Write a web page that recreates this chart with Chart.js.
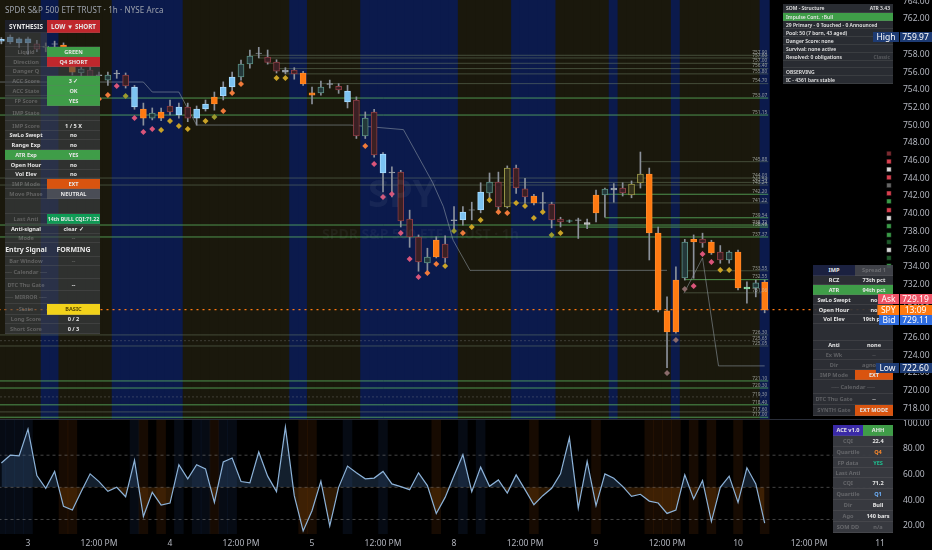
<!DOCTYPE html>
<html><head><meta charset="utf-8">
<script src="https://cdn.jsdelivr.net/npm/chart.js@4.4.1/dist/chart.umd.min.js"></script>
<style>
html,body{margin:0;padding:0;background:#000;}
body{width:932px;height:550px;position:relative;overflow:hidden;font-family:"Noto Sans",Roboto,Arial,sans-serif;}
canvas{position:absolute;left:0;}
#cMain{top:0;z-index:1}
#cOsc{top:420px;z-index:1}
#cTags{top:0;z-index:5;pointer-events:none}
#sep{position:absolute;left:0;top:419px;width:932px;height:1px;background:#2a2e39;}
.title{position:absolute;left:5px;top:4px;font-size:8px;color:#9ea3ad;letter-spacing:0.1px;z-index:2}
.wm1{position:absolute;left:368px;top:166px;font-size:38px;font-weight:700;color:rgba(140,150,170,0.10);z-index:2}
.wm2{position:absolute;left:322px;top:224px;font-size:14px;font-weight:700;color:rgba(140,150,170,0.08);z-index:2}
.tb{position:absolute;z-index:3}
.row{position:absolute;left:0;display:flex;}
.cell{box-sizing:border-box;display:flex;align-items:center;justify-content:center;font-size:5.6px;font-weight:700;color:#e6e6e6;white-space:nowrap;overflow:hidden;border-bottom:1px solid rgba(110,110,110,0.25);}
#tSom .cell{font-size:5px;font-weight:600;}
.dim{color:rgba(190,190,190,0.35);}
</style></head>
<body>
<canvas id="cMain" width="932" height="419"></canvas>
<canvas id="cOsc" width="932" height="130"></canvas>
<canvas id="cTags" width="932" height="419"></canvas>
<div id="sep"></div>
<div class="title">SPDR S&amp;P 500 ETF TRUST · 1h · NYSE Arca</div>
<div class="wm1">SPY</div>
<div class="wm2">SPDR S&amp;P 500 ETF TRUST · 1h</div>
<div id="tLeft" class="tb"></div>
<div id="tSom" class="tb"></div>
<div id="tImp" class="tb"></div>
<div id="tAce" class="tb"></div>
<script>
// ---------------- DATA ----------------
const firstBar = -3;            // bar index of first candle (bar 0 = day "3", 04:00)
const opens  = [759.5,759.4,759.3,759.3,759.2,758.8,759.2,759.06,757.93,755.95,756.24,755.7,755.1,755.8,755.67,752.06,751.83,750.81,751.49,752.17,751.15,752.06,750.81,751.83,753.19,753.3,754.32,755.45,756.92,758.1,757.7,757.14,756.24,756.24,755.9,753.65,753.64,754.6,754.4,752.62,752.85,748.78,751.49,744.6,744.6,744.7,739.4,737.37,734.43,737.03,736.58,739.3,739.29,740.4,740.42,742.34,743.58,740.76,745.16,742.8,742.0,741.25,741.1,739.4,739.2,739.3,738.8,742.11,742.11,742.68,742.9,742.11,743.47,744.49,737.82,729.01,726.63,732.73,737.1,737.14,736.8,735.67,734.77,735.67,731.7,731.6,732.28];
const highs  = [759.9,760.2,759.9,759.97,759.6,759.3,759.5,759.3,758.3,756.7,756.7,756.0,756.0,756.2,755.9,754.5,752.5,751.95,751.95,752.85,752.5,752.5,752.17,752.85,753.75,754.9,756.0,757.37,758.5,758.8,758.5,757.4,756.5,756.5,756.1,754.3,755.0,755.1,754.7,754.5,753.2,751.5,751.8,746.9,745.3,744.9,740.4,737.6,736.1,737.4,737.5,740.8,740.8,741.3,743.5,744.6,744.7,745.4,745.5,744.0,742.2,742.4,741.3,739.6,739.3,739.5,739.4,742.68,742.9,743.4,743.5,743.7,746.97,745.16,738.5,730.6,734.0,737.1,737.6,737.8,737.0,736.4,735.8,735.9,732.3,732.5,732.5];
const lows   = [759.2,759.2,758.8,758.0,758.3,758.3,758.8,757.9,755.67,755.45,755.1,755.2,754.5,755.3,754.2,751.8,750.0,750.6,750.5,751.15,750.81,750.4,750.0,751.6,751.7,752.85,753.75,755.1,756.46,757.6,756.9,755.9,755.8,755.2,754.5,752.4,753.4,754.2,753.6,751.95,748.5,748.5,746.4,742.45,741.9,738.5,736.2,733.5,733.4,735.0,734.5,738.2,738.7,739.3,740.1,741.3,740.4,740.65,742.3,741.2,741.0,740.2,738.4,738.5,739.0,737.2,738.3,739.06,739.6,741.3,742.0,741.8,742.9,734.77,728.9,722.6,726.5,732.5,732.7,736.2,735.4,734.4,734.4,731.4,729.9,730.6,728.8];
const closes = [759.7,759.97,759.75,759.75,758.6,758.95,759.15,758.16,756.0,756.35,755.45,755.6,755.67,755.9,754.43,754.32,750.81,751.38,750.81,751.49,752.06,750.81,751.83,752.4,752.4,754.32,755.45,756.92,757.82,758.16,757.1,756.12,756.0,755.8,754.66,753.4,754.32,754.7,754.0,753.87,748.78,750.81,746.63,746.74,744.7,739.18,737.37,734.54,735.11,735.11,734.99,739.2,740.19,740.45,742.45,743.58,740.76,745.16,742.9,741.9,741.21,741.2,739.29,739.06,739.15,739.25,739.0,740.08,742.79,742.9,742.34,743.36,744.49,737.82,729.12,726.63,732.51,736.8,736.8,736.69,735.56,734.77,735.67,731.6,731.5,732.2,729.12];
// candle state as coloured by the indicator: up / dn (filled), upH / dnH / ol (hollow), doji-like marks
const candleState = ['up','up','up','up','dnH','upH','doji','dn','dn','upH','dnH','doji','upH','doji','dnH','up','dn','upH','dn','dnH','up','dnH','up','up','dn','up','up','upH','upH','doji','dnH','dnH','doji','dnH','dn','dn','upH','doji','dnH','up','dnH','upH','dnH','up','doji','dnH','dnH','dnH','upH','dn','dnH','doji','up','doji','up','upH','dnH','ol','dnH','dnH','dn','doji','dnH','dnH','tdash','doji','gray','dn','upH','doji','dnH','ol','ol','dn','dn','dn','dn','upH','dn','dnH','dn','dnH','upH','dn','gcross','upH','dn'];
// session shading per bar: 1 = highlighted (blue) session, 0 = normal
const sessionState = [0,0,0,0,0,1,1,0,0,0,0,0,0,1,1,1,1,1,1,1,1,0,0,0,0,0,0,0,0,0,0,0,0,1,1,0,0,0,0,0,0,1,1,1,1,1,1,1,1,1,1,1,0,0,0,0,0,0,1,1,1,1,1,0,0,0,0,0,0,1,0,0,0,0,0,0,1,0,0,0,0,0,0,0,0,0,1];
// signal diamonds: bar index, price, kind (y = yellow, p = pink, o = orange, l = olive, g = grey)
const sigBar   = [6,7,8,9,10,11,12,13,14,15,16,17,18,20,21,22,23,24,28,29,38,39,40,41,42,43,44,45,46,47,48,49,50,51,52,53,54,55,56,57,58,59,60,72,73,74,75,76,77,78,79];
const sigPrice = [755.11,754.20,752.96,753.41,754.43,753.30,750.81,749.23,749.57,749.46,750.47,749.91,749.57,750.47,750.93,751.60,753.64,754.66,755.33,755.33,747.65,745.62,741.89,742.23,737.82,734.88,732.85,733.30,734.32,734.09,738.05,737.82,738.50,739.29,741.55,740.19,740.08,741.21,740.87,739.51,740.19,737.59,737.82,722.0,725.73,731.49,731.83,735.45,734.54,733.64,733.64];
const sigKind  = ['o','y','o','o','p','l','p','p','p','y','y','y','y','y','l','o','o','o','y','y','o','p','p','p','p','p','p','o','o','y','l','o','y','y','y','o','o','y','y','y','y','l','y','g','g','g','p','p','p','y','y'];
// horizontal levels: price, from bar, to bar, kind (g = strong green, d = dim, t = dotted)
const levelPrice = [753.07,751.15,744.03,743.24,738.72,737.37,721.10,720.30,718.40,717.00,726.30,725.65,725.05,719.30,717.60,757.90,757.60,757.00,756.40,755.80,754.70,745.88,743.54,742.20,741.22,739.54,738.49,733.55,732.55,731.06];
const levelFrom  = [-4,-4,-4,-4,-4,-4,-4,-4,-4,-4,-4,-4,-4,-4,-4,25,26,27,28,29,31,69,52,65,53,65,62,74,74,74];
const levelTo    = [83.4,83.4,83.4,83.4,83.4,83.4,83.4,83.4,83.4,83.4,83.4,83.4,83.4,83.4,83.4,83.4,83.4,83.4,83.4,83.4,83.4,83.4,83.4,83.4,83.4,83.4,83.4,83.4,83.4,83.4];
const levelKind  = ['g','g','d','d','g','g','g','g','g','g','d','t','d','t','d','d','d','d','d','d','d','d','d','g','d','g','g','d','g','d'];
// trailing structure lines (bar index, price)
const trailA_x = [-3.2,8,13,14,17,19,36.3,42.3,43.9,45.6,46.8,47.9,49.8,72];
const trailA_y = [754.88,754.88,754.88,753.75,753.75,750.02,750.02,749.5,746.6,743.5,740.8,737.0,733.6,733.6];
const trailB_x = [73.9,76,77.8,83];
const trailB_y = [731.0,735.0,722.8,722.8];
// ACE oscillator
const osc = [69,75,74.5,95.3,59.2,49.3,62.4,35.2,32.3,46.7,60.5,54.5,46.9,50.1,42.7,71,27.3,46.1,36.2,37.8,67.6,56.6,67.6,64.4,38.3,69.7,72.8,54.5,53.5,77.5,58.7,46.7,96.9,43.5,16.1,31.8,54.8,20,50,66.5,61.3,56.6,57.2,62.4,52.7,50.6,48.2,61.3,51.4,29.7,42.2,59,75.4,46.7,65.7,50.8,55.8,45.6,59.7,48.2,36.5,43.5,49.3,60.5,88.5,33.9,70.2,35.7,60.5,57.1,50.8,43,44.6,39.3,37.8,29.7,32.3,59.7,40.9,55.3,23.4,50,58.7,38.3,65.2,52.7,22.1];
const oscLevels = [75,50,25];
// right heat column (price, state)
const heatPrice = [746.8,745.9,745.0,744.1,743.2,742.3,741.4,740.4,739.5,738.6,737.6,736.8,735.9,735.0,734.1];
const heatState = ['r','R','w','R','n','R','G','R','w','G','G','g','w','g','G'];
// time axis
const timeTickBars = [0,8,16,24,32,40,48,56,64,72,80,88,96];
const timeTickLabels = ['3','12:00 PM','4','12:00 PM','5','12:00 PM','8','12:00 PM','9','12:00 PM','10','12:00 PM','11'];
// quotes
const lastPrice = 729.15, askPrice = 729.19, bidPrice = 729.11, hiPrice = 759.97, loPrice = 722.60;
const barCountdown = '13:09';
// price window
const priceMin = 716.8, priceMax = 764.15, xMin = -3.155, xMax = 97.46;
const oscMin = 13.7, oscMax = 102.4;

// ---------------- STYLE ----------------
const bodyFill = {up:'#7cc3f2',dn:'#ff7a12',upH:'#24383a',dnH:'#3a2024',ol:'#34311b',doji:'#9aa3ad',tdash:'#63d3c6',gray:'#c8c8c8',gcross:'#8fe0a8'};
const bodyLine = {up:'#a9dcff',dn:'#ff8a2a',upH:'#5b8f84',dnH:'#8c3d45',ol:'#9c9a4a',doji:'#9aa3ad',tdash:'#63d3c6',gray:'#c8c8c8',gcross:'#8fe0a8'};
const sigColor = {y:'#c9a227',p:'#d9557a',o:'#f07a3a',l:'#9a9a2e',g:'#8a6a6a'};
const heatColor = {r:'#7a2a30',R:'#d8404f',w:'#d8d8d8',n:'#666',G:'#3a9a48',g:'#1e5a2a'};
const levelColor = {g:'rgba(96,190,100,0.75)',d:'rgba(120,140,110,0.45)',t:'rgba(150,150,150,0.6)'};

const idx = opens.map((_, k) => firstBar + k);
Chart.defaults.font.family = '"Noto Sans", Roboto, Arial, sans-serif';
Chart.defaults.animation = false;
function noPad(s){ s.paddingTop = 0; s.paddingBottom = 0; s.paddingLeft = 0; s.paddingRight = 0; }

const datasets = [];
datasets.push({type:'bar', order:100, data: idx.map(x => ({x, y:[priceMin, priceMax]})),
  backgroundColor: sessionState.map(s => s ? '#0b1a4c' : '#1a180c'), borderWidth:0,
  barPercentage:1, categoryPercentage:1, grouped:false, inflateAmount:0.6});
levelPrice.forEach((p, k) => datasets.push({type:'line', order:50,
  data:[{x:levelFrom[k], y:p},{x:levelTo[k], y:p}], borderColor: levelColor[levelKind[k]],
  borderWidth: 1, borderDash: levelKind[k]==='t' ? [1,3] : [], pointRadius:0}));
datasets.push({type:'line', order:40, data: trailA_x.map((x,k)=>({x, y:trailA_y[k]})),
  borderColor:'rgba(150,160,170,0.55)', borderWidth:1, pointRadius:0, tension:0});
datasets.push({type:'line', order:40, data: trailB_x.map((x,k)=>({x, y:trailB_y[k]})),
  borderColor:'rgba(150,160,170,0.55)', borderWidth:1, pointRadius:0, tension:0});
datasets.push({type:'bar', order:20, data: idx.map((x,k)=>({x, y:[lows[k], highs[k]]})),
  backgroundColor:'#8b919b', borderWidth:0, barThickness:1, grouped:false});
datasets.push({type:'bar', order:10, data: idx.map((x,k)=>({x, y:[opens[k], closes[k]]})),
  backgroundColor: candleState.map(s=>bodyFill[s]), borderColor: candleState.map(s=>bodyLine[s]),
  borderWidth:1, borderSkipped:false, barThickness:6, grouped:false});
datasets.push({type:'line', order:5, showLine:false, data: sigBar.map((x,k)=>({x, y:sigPrice[k]})),
  pointStyle:'rectRot', pointRadius:3, pointBorderWidth:0,
  pointBackgroundColor: sigKind.map(s=>sigColor[s])});
datasets.push({type:'line', order:3, data:[{x:-4,y:lastPrice},{x:98,y:lastPrice}],
  borderColor:'#ff7a12', borderWidth:1.3, borderDash:[2,4], pointRadius:0});
datasets.push({type:'line', order:2, showLine:false, data: heatPrice.map(p=>({x:97.0, y:p})),
  pointStyle:'rect', pointRadius:3.3, pointBorderWidth:0.8, pointBorderColor:'rgba(0,0,0,0.6)',
  pointBackgroundColor: heatState.map(s=>heatColor[s])});

const tagPlugin = {id:'tags', afterDraw(chart){
  const ctx = chart.ctx, y = chart.scales.y, x = chart.scales.x;
  ctx.save();
  // level value labels near the right end of each level
  ctx.font = '4.8px "Noto Sans", Roboto, Arial';
  ctx.fillStyle = 'rgba(190,195,190,0.75)'; ctx.textAlign = 'right'; ctx.textBaseline = 'middle';
  levelPrice.forEach(p => ctx.fillText(p.toFixed(2), x.getPixelForValue(levelTo[0]) - 1, y.getPixelForValue(p) - 2.5));
  ctx.restore();
  // price tags on an overlay canvas so they sit above the info tables
  const o = document.getElementById('cTags').getContext('2d');
  o.clearRect(0,0,932,419);
  const tags = [
    {n:'High', v:hiPrice.toFixed(2), p:hiPrice, off:0, c:'#1d3b74'},
    {n:'Ask', v:askPrice.toFixed(2), p:askPrice, off:-10, c:'#ef5366'},
    {n:'SPY', v:barCountdown, p:lastPrice, off:0, c:'#ff7a12'},
    {n:'Bid', v:bidPrice.toFixed(2), p:bidPrice, off:10, c:'#2f6de0'},
    {n:'Low', v:loPrice.toFixed(2), p:loPrice, off:0, c:'#1d3b74'}];
  tags.forEach(t=>{
    const yy = Math.round(y.getPixelForValue(t.p) + t.off);
    o.font = '8.5px "Noto Sans", Roboto, Arial';
    const nw = o.measureText(t.n).width + 7;
    o.fillStyle = t.c;
    o.fillRect(899 - nw, yy-5, nw, 10);
    o.fillRect(900, yy-5, 32, 10);
    o.fillStyle = '#fff'; o.textBaseline = 'middle'; o.textAlign='center';
    o.fillText(t.n, 899 - nw/2, yy+0.5);
    o.fillText(t.v, 915.5, yy+0.5);
  });
}};

new Chart(document.getElementById('cMain'), {
  type:'bar', data:{datasets},
  options:{responsive:false, devicePixelRatio:1, animation:false,
    layout:{padding:0, autoPadding:false},
    plugins:{legend:{display:false}, tooltip:{enabled:false}},
    scales:{
      x:{type:'linear', min:xMin, max:xMax, display:false, offset:false},
      y:{type:'linear', position:'right', min:priceMin, max:priceMax,
        grid:{display:false, drawTicks:false}, border:{display:false},
        afterFit(s){ s.width = 39; noPad(s); },
        ticks:{stepSize:2, includeBounds:false, autoSkip:false, padding:10, color:'#b2b5be',
          font:{size:8.5}, callback:v=>v.toFixed(2)}}
    }},
  plugins:[tagPlugin]
});

// ---- oscillator panel ----
const oscStripe = candleState.map(s => s==='up' ? 'rgba(60,110,200,0.10)' : (s==='dn' ? 'rgba(255,120,20,0.09)' : 'rgba(0,0,0,0)'));
const oscSets = [
  {type:'bar', order:100, data: idx.map(x=>({x, y:[oscMin, oscMax]})), backgroundColor: oscStripe,
    borderWidth:0, barPercentage:1, categoryPercentage:1, grouped:false},
  ...oscLevels.map(v=>({type:'line', order:50, data:[{x:-4,y:v},{x:98,y:v}], borderColor:'rgba(150,150,150,0.45)',
    borderWidth:1, borderDash:[3,3], pointRadius:0})),
  {type:'line', order:1, data: idx.map((x,k)=>({x, y:osc[k]})), borderColor:'#8db3d9', borderWidth:1.2,
    pointRadius:0, tension:0, fill:{target:{value:50}, above:'rgba(70,110,160,0.28)', below:'rgba(140,75,10,0.33)'}}
];
new Chart(document.getElementById('cOsc'), {
  type:'bar', data:{datasets:oscSets},
  options:{responsive:false, devicePixelRatio:1, animation:false, layout:{padding:0, autoPadding:false},
    plugins:{legend:{display:false}, tooltip:{enabled:false}},
    scales:{
      x:{type:'linear', min:xMin, max:xMax, offset:false, grid:{display:false, drawTicks:false}, border:{display:false},
        afterBuildTicks(s){ s.ticks = timeTickBars.map(v=>({value:v})); },
        afterFit(s){ s.height = 16; noPad(s); },
        ticks:{autoSkip:false, maxRotation:0, padding:4, color:'#b2b5be', font:{size:8.5},
          callback:(v,i)=>timeTickLabels[i]}},
      y:{type:'linear', position:'right', min:oscMin, max:oscMax, grid:{display:false, drawTicks:false}, border:{display:false},
        afterFit(s){ s.width = 39; noPad(s); },
        ticks:{stepSize:20, includeBounds:false, autoSkip:false, padding:10, color:'#b2b5be', font:{size:8.5},
          callback:v=>v.toFixed(2)}}
    }}
});

// ---------------- TABLES (UI overlays) ----------------
function buildTable(el, left, top, widths, rows, bg){
  el.style.left = left+'px'; el.style.top = top+'px';
  el.style.width = widths.reduce((a,b)=>a+b,0)+'px';
  let y = 0;
  rows.forEach(r=>{
    const [h, cells] = r;
    const row = document.createElement('div'); row.className='row'; row.style.top=y+'px'; row.style.height=h+'px';
    let ci = 0;
    cells.forEach(c=>{
      const d = document.createElement('div'); d.className='cell'+(c.dim?' dim':'');
      const span = c.span||1; let w=0; for(let k=0;k<span;k++) w+=widths[ci+k]; ci+=span;
      d.style.width=w+'px'; d.style.height=h+'px';
      d.style.background = c.bg || bg;
      if(c.fg) d.style.color=c.fg; if(c.fs) d.style.fontSize=c.fs+'px';
      if(c.align) { d.style.justifyContent=c.align; d.style.padding='0 3px'; }
      d.textContent = c.t||'';
      row.appendChild(d);
    });
    el.appendChild(row); y+=h;
  });
}
const G='#3f9d48', RED='#c0272d', ORG='#d9540f', GRY='rgba(62,64,70,0.62)';
buildTable(document.getElementById('tLeft'), 5, 20, [42,53], [
  [13,[{t:'SYNTHESIS',bg:'rgba(30,34,45,0.92)',fs:6.3},{t:'LOW ▼ SHORT',bg:RED,fs:6.3}]],
  [14,[{t:''},{t:'',bg:'rgba(0,0,0,0)'}]],
  [10,[{t:'Liquid',dim:1},{t:'GREEN',bg:G}]],
  [10,[{t:'Direction',dim:1},{t:'Q4 SHORT',bg:RED}]],
  [9,[{t:'Danger Q',dim:1},{t:''}]],
  [10,[{t:'ACC Score',dim:1},{t:'3 ✓',bg:G}]],
  [10,[{t:'ACC State',dim:1},{t:'OK',bg:G}]],
  [10,[{t:'FP Score',dim:1},{t:'YES',bg:G}]],
  [15,[{t:'IMP State',dim:1},{t:''}]],
  [10,[{t:'IMP Score',dim:1},{t:'1 / 5  X'}]],
  [9,[{t:'SwLo Swept'},{t:'no'}]],
  [10,[{t:'Range Exp'},{t:'no'}]],
  [10,[{t:'ATR Exp',bg:G},{t:'YES',bg:G}]],
  [10,[{t:'Open Hour'},{t:'no'}]],
  [9,[{t:'Vol Elev'},{t:'no'}]],
  [10,[{t:'IMP Mode',dim:1},{t:'EXT',bg:ORG}]],
  [10,[{t:'Move Phase',dim:1},{t:'NEUTRAL',bg:'#4a4d56'}]],
  [15,[{t:''},{t:''}]],
  [10,[{t:'Last Anti',dim:1},{t:'14th BULL CQI:71.22',bg:'#0f9a55',fs:5.2}]],
  [10,[{t:'Anti-signal'},{t:'clear ✓'}]],
  [9,[{t:'Mode',dim:1},{t:'--',dim:1}]],
  [14,[{t:'Entry Signal',fs:7},{t:'FORMING',fs:7}]],
  [9,[{t:'Bar Window',dim:1},{t:'--',dim:1}]],
  [13,[{t:'── Calendar ──',dim:1},{t:''}]],
  [12,[{t:'DTC Thu Gate',dim:1},{t:'--'}]],
  [13,[{t:'── MIRROR ──',dim:1},{t:''}]],
  [11,[{t:'State',dim:1},{t:'BASIC',bg:'#f2d21a',fg:'#5a4a00'}]],
  [9,[{t:'Long Score',dim:1},{t:'0 / 2'}]],
  [10,[{t:'Short Score',dim:1},{t:'0 / 3'}]]
], GRY);
buildTable(document.getElementById('tSom'), 783, 4, [78,32], [
  [9,[{t:'SOM - Structure',align:'flex-start'},{t:'ATR 3.43',align:'flex-end'}]],
  [8,[{t:'Impulse Cont. ↑Bull',span:2,align:'flex-start',bg:'#3f9d48'}]],
  [8,[{t:'29 Primary - 0 Touched - 0 Announced',span:2,align:'flex-start'}]],
  [8,[{t:'Pool: 50 (7 born, 43 aged)',span:2,align:'flex-start'}]],
  [8,[{t:'Danger Score: none',span:2,align:'flex-start'}]],
  [8,[{t:'Survival: none active',span:2,align:'flex-start'}]],
  [8,[{t:'Resolved: 0 obligations',align:'flex-start'},{t:'Classic',dim:1,align:'flex-end'}]],
  [7,[{t:'',span:2}]],
  [8,[{t:'OBSERVING',span:2,align:'flex-start'}]],
  [8,[{t:'IC - 4361 bars stable',span:2,align:'flex-start'}]]
], 'rgba(42,45,52,0.97)');
buildTable(document.getElementById('tImp'), 813, 265, [42,38], [
  [11,[{t:'IMP',bg:'#1b2140'},{t:'Spread  1',dim:1,bg:'rgba(70,72,80,0.9)'}]],
  [9,[{t:'RCZ'},{t:'73th pct'}]],
  [10,[{t:'ATR',bg:G},{t:'94th pct',bg:G}]],
  [10,[{t:'SwLo Swept'},{t:'no'}]],
  [10,[{t:'Open Hour'},{t:'no'}]],
  [9,[{t:'Vol Elev'},{t:'19th pct'}]],
  [17,[{t:''},{t:''}]],
  [9,[{t:'Anti'},{t:'none'}]],
  [10,[{t:'Ex Wk',dim:1},{t:'--',dim:1}]],
  [10,[{t:'Dir',dim:1},{t:'agnostic',dim:1}]],
  [10,[{t:'IMP Mode',dim:1},{t:'EXT',bg:ORG}]],
  [14,[{t:'── Calendar ──',dim:1,span:2}]],
  [11,[{t:'DTC Thu Gate',dim:1},{t:'--'}]],
  [11,[{t:'SYNTH Gate',dim:1},{t:'EXT MODE',bg:ORG}]]
], 'rgba(48,50,56,0.92)');
buildTable(document.getElementById('tAce'), 833, 425, [30,30], [
  [11,[{t:'ACE v1.0',bg:'#3a2aa8'},{t:'AHH',bg:'#3f9d48'}]],
  [11,[{t:'CQI',dim:1},{t:'22.4'}]],
  [11,[{t:'Quartile',dim:1},{t:'Q4',fg:'#ff8a2a'}]],
  [10,[{t:'FP data',dim:1},{t:'YES',fg:'#1fbf8f'}]],
  [10,[{t:'Last Anti',dim:1},{t:''}]],
  [11,[{t:'CQI',dim:1},{t:'71.2'}]],
  [11,[{t:'Quartile',dim:1},{t:'Q1',fg:'#6fb4ff'}]],
  [11,[{t:'Dir',dim:1},{t:'Bull'}]],
  [11,[{t:'Ago',dim:1},{t:'140 bars'}]],
  [11,[{t:'SOM DD',dim:1},{t:'n/a',dim:1}]]
], 'rgba(58,60,66,0.95)');
</script>
</body></html>
